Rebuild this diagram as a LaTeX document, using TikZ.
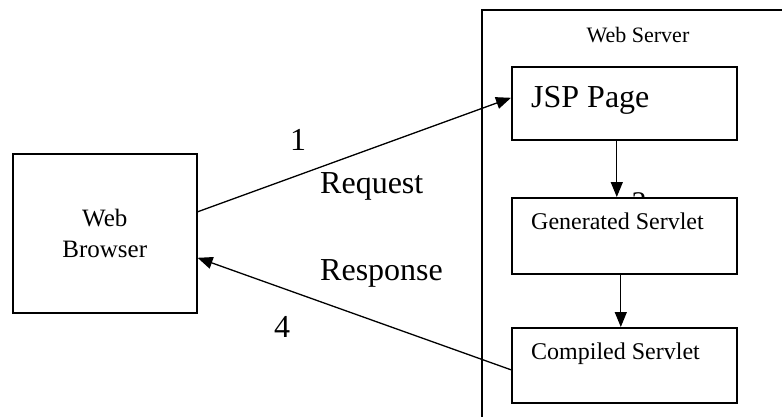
\documentclass[tikz,border=0pt]{standalone}
\usepackage{fontspec}
\setmainfont{Liberation Serif}
\usetikzlibrary{arrows.meta}
\begin{document}
\begin{tikzpicture}[x=1pt,y=-1pt,
  box/.style={draw,line width=1.6pt,fill=white,rectangle,inner sep=0pt,anchor=north west},
  lbl/.style={inner sep=0pt,anchor=base west},
  arr/.style={line width=1.3pt,-{Triangle[length=15pt,width=12pt]}}]
\useasboundingbox (0,0) rectangle (782,416);
\clip (0,0) rectangle (782,416);
% outer server box (extends beyond the page)
\node[box,minimum width=330pt,minimum height=430pt,fill=none] (server) at (481,9) {};
\node[inner sep=0pt,anchor=base,font=\fontsize{22}{26}\selectfont] (servert) at (638,42) {Web Server};
% step label 3 (partly hidden behind the box)
\node[inner sep=0pt,anchor=base,font=\fontsize{30}{34}\selectfont] (three) at (639,212) {3};
% boxes
\node[box,minimum width=184pt,minimum height=159pt,align=center,
  font=\fontsize{25}{31}\selectfont,text depth=0pt] (browser) at (12,153) {Web\\Browser};
\node[box,minimum width=225pt,minimum height=73pt] (jsp) at (511,66) {};
\node[lbl,font=\fontsize{32}{36}\selectfont] (jspt) at (531,107) {JSP Page};
\node[box,minimum width=225pt,minimum height=76pt] (gen) at (511,197) {};
\node[lbl,font=\fontsize{24}{28}\selectfont] (gent) at (531,229) {Generated Servlet};
\node[box,minimum width=225pt,minimum height=75pt] (comp) at (511,327) {};
\node[lbl,font=\fontsize{24}{28}\selectfont] (compt) at (531,359) {Compiled Servlet};
% connector labels
\node[lbl,font=\fontsize{32}{36}\selectfont] (one) at (290,150) {1};
\node[lbl,font=\fontsize{32}{36}\selectfont] (req) at (320,193) {Request};
\node[lbl,font=\fontsize{32}{36}\selectfont] (resp) at (320,280) {Response};
\node[lbl,font=\fontsize{32}{36}\selectfont] (four) at (274,337) {4};
% connectors
\draw[arr] ([yshift=21.5pt]browser.east) -- ([yshift=5.5pt]jsp.west);
\draw[arr] ([yshift=-4.5pt]comp.west) -- ([yshift=-24.5pt]browser.east);
\draw[arr] ([xshift=-7.5pt]jsp.south) -- ([xshift=-7.5pt]gen.north);
\draw[arr] ([xshift=-3.5pt]gen.south) -- ([xshift=-3.5pt]comp.north);
\end{tikzpicture}
\end{document}
